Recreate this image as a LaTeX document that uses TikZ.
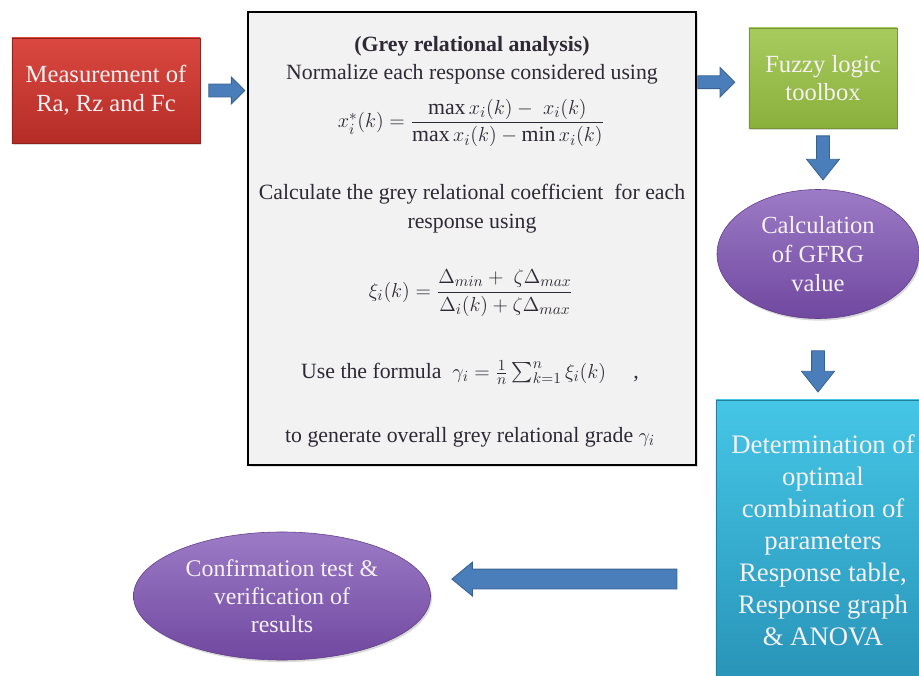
\documentclass[tikz,border=0pt]{standalone}
\usepackage{amsmath}
\usepackage{fontspec}
\setmainfont{Liberation Serif}
\usetikzlibrary{arrows.meta,positioning,shapes.geometric,shapes.arrows,shadows}
\definecolor{redtop}{HTML}{DA4840}
\definecolor{redbot}{HTML}{B52C27}
\definecolor{greentop}{HTML}{A8CB5E}
\definecolor{greenbot}{HTML}{8AB03C}
\definecolor{purpletop}{HTML}{9C7BC6}
\definecolor{purplebot}{HTML}{7048A0}
\definecolor{cyantop}{HTML}{45C6E6}
\definecolor{cyanbot}{HTML}{2894B8}
\definecolor{greyfill}{HTML}{F2F2F2}
\definecolor{greytext}{HTML}{2E2935}
\definecolor{arrowblue}{HTML}{4A7EBB}
\definecolor{arrowedge}{HTML}{3A6190}
\definecolor{lighttext}{HTML}{F6F1F4}

\begin{document}
\begin{tikzpicture}[
  x=0.025cm,y=-0.025cm,
  box/.style={draw,align=center,text=lighttext,inner sep=2pt,font=\fontsize{17.5}{20.5}\selectfont,
    drop shadow={shadow xshift=1pt,shadow yshift=-1.5pt,opacity=.3}},
  oval/.style={box,ellipse,inner sep=0pt},
  greybox/.style={draw=black,line width=1.5pt,fill=greyfill,
    drop shadow={shadow xshift=1.5pt,shadow yshift=-1.5pt,opacity=.25}},
  gline/.style={text=greytext,font=\fontsize{15.5}{18}\selectfont,inner sep=0pt},
  fatarrow/.style={single arrow,draw=arrowedge,fill=arrowblue,line width=.6pt,inner sep=0pt,
    sloped,allow upside down}
]
\useasboundingbox (0,0) rectangle (919,676);
\node[box,draw=redbot!80!black,top color=redtop,bottom color=redbot,minimum width=4.7cm,minimum height=2.625cm] (meas) at (106,90.5) {Measurement of\\Ra, Rz and Fc};
\node[greybox,minimum width=11.2cm,minimum height=11.325cm] (gra) at (472,238.5) {};
\node[box,draw=greenbot!85!black,top color=greentop,bottom color=greenbot,minimum width=3.7cm,minimum height=2.5cm] (fuzzy) at (823,78) {Fuzzy logic\\toolbox};
\node[oval,draw=purplebot!85!black,top color=purpletop,bottom color=purplebot,minimum width=5.05cm,minimum height=3.225cm] (gfrg) at (818,254) {Calculation\\of GFRG\\value};
\node[box,draw=cyanbot!85!black,top color=cyantop,bottom color=cyanbot,minimum width=5.35cm,minimum height=7cm,font=\fontsize{19}{22.8}\selectfont] (det) at (823,540) {Determination of\\optimal\\combination of\\parameters\\Response table,\\Response graph\\\& ANOVA};
\node[oval,draw=purplebot!85!black,top color=purpletop,bottom color=purplebot,minimum width=7.425cm,minimum height=3.2cm,font=\fontsize{17}{20}\selectfont] (conf) at (282,596) {Confirmation test \&\\verification of\\results};
% grey relational analysis text
\node[gline,anchor=base] (title) at (472,52) {\textbf{(Grey relational analysis)}};
\node[gline,anchor=base] (norm) at (472,80) {Normalize each response considered using};
\node[gline] (eqnorm) at (471,123) {$x_i^{*}(k)=\dfrac{\max x_i(k)-\;x_i(k)}{\max x_i(k)-\min x_i(k)}$};
\node[gline,anchor=base] (calc) at (472,199) {Calculate the grey relational coefficient\ \ for each};
\node[gline,anchor=base] (resp) at (472,228) {response using};
\node[gline] (eqcoef) at (471,293) {$\xi_i(k)=\dfrac{\Delta_{min}+\;\zeta\Delta_{max}}{\Delta_i(k)+\zeta\Delta_{max}}$};
\node[gline,anchor=base] (use) at (470,378) {Use the formula\ \ $\gamma_i=\frac{1}{n}\sum_{k=1}^{n}\xi_i(k)$\quad\ ,};
\node[gline,anchor=base] (gen) at (470,442) {to generate overall grey relational grade $\gamma_i$};
% block arrows
\path (meas.east) -- (meas.east -| gra.west) node[fatarrow,pos=.5,minimum height=0.9cm,inner ysep=0.15cm,single arrow head extend=0.175cm] (a1) {};
\path (gra.east |- fuzzy.west) -- (fuzzy.west) node[fatarrow,pos=.31,yshift=-3pt,minimum height=0.925cm,inner ysep=0.15cm,single arrow head extend=0.21cm] (a2) {};
\path (fuzzy.south) -- (fuzzy.south |- gfrg.north) node[fatarrow,pos=.42,minimum height=1.1cm,inner ysep=0.15cm,single arrow head extend=0.25cm,single arrow tip angle=77] (a3) {};
\path (gfrg.south) -- (gfrg.south |- det.north) node[fatarrow,pos=.6,minimum height=1.03cm,inner ysep=0.15cm,single arrow head extend=0.25cm,single arrow tip angle=77] (a4) {};
\path (det.200) -- (det.200 -| conf.east) node[fatarrow,pos=.51,minimum height=5.625cm,inner ysep=0.2375cm,single arrow head extend=0.175cm,single arrow tip angle=79] (a5) {};
\end{tikzpicture}
\end{document}
